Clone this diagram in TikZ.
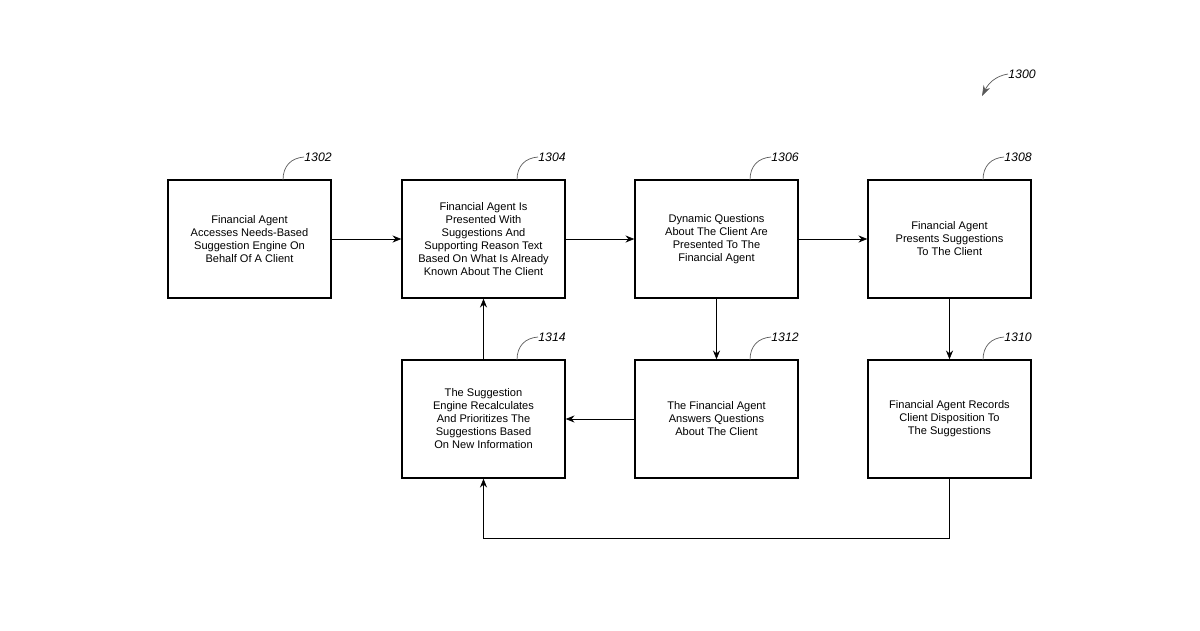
\documentclass[tikz,border=0pt]{standalone}
\usepackage{fontspec}
\setmainfont{Liberation Sans}
\usetikzlibrary{arrows, arrows.meta, positioning}

\tikzset{
  stage/.style={draw, thick, minimum width=3.26cm, minimum height=2.36cm,
    align=center, font=\fontsize{6.3}{7.4}\selectfont, inner sep=1pt},
  flow/.style={-{Stealth[length=5pt,width=4pt]}, thin},
  tag/.style={font=\fontsize{7}{8}\selectfont\itshape, anchor=west, inner sep=0pt},
  lead/.style={thin, gray!70!black}
}

\begin{document}
\begin{tikzpicture}[x=0.02cm, y=-0.02cm]
\useasboundingbox (0,0) rectangle (1200,630);

% top row
\node[stage] (s1302) at (249.5,239) {Financial Agent\\Accesses Needs-Based\\Suggestion Engine On\\Behalf Of A Client};
\node[stage] (s1304) at (483.5,239) {Financial Agent Is\\Presented With\\Suggestions And\\Supporting Reason Text\\Based On What Is Already\\Known About The Client};
\node[stage] (s1306) at (716.5,239) {Dynamic Questions\\About The Client Are\\Presented To The\\Financial Agent};
\node[stage] (s1308) at (949.5,239) {Financial Agent\\Presents Suggestions\\To The Client};
% bottom row
\node[stage] (s1314) at (483.5,419) {The Suggestion\\Engine Recalculates\\And Prioritizes The\\Suggestions Based\\On New Information};
\node[stage] (s1312) at (716.5,419) {The Financial Agent\\Answers Questions\\About The Client};
\node[stage] (s1310) at (949.5,419) {Financial Agent Records\\Client Disposition To\\The Suggestions};

% connectors
\draw[flow] (s1302) -- (s1304);
\draw[flow] (s1304) -- (s1306);
\draw[flow] (s1306) -- (s1308);
\draw[flow] (s1306) -- (s1312);
\draw[flow] (s1308) -- (s1310);
\draw[flow] (s1312) -- (s1314);
\draw[flow] (s1314) -- (s1304);
\coordinate (loopR) at (949.5,538);
\coordinate (loopL) at (483.5,538);
\draw[flow] (s1310.south) -- (loopR) -- (loopL) -- (s1314.south);

% reference numerals
\foreach \n/\x/\y in {1302/283/180, 1304/517/180, 1306/750/180, 1308/983/180,
                      1314/517/360, 1312/750/360, 1310/983/360} {
  \node[tag] (t\n) at (\x+21,\y-23) {\n};
  \draw[lead] (\x,\y) .. controls (\x,\y-14) and (\x+8,\y-22) .. (t\n.west);
}
\node[tag] (t1300) at (1008,74) {1300};
\coordinate (a1300) at (982,96);
\draw[lead, -{Stealth[length=6pt,width=4pt]}] (t1300.west) .. controls (995,76) and (988,84) .. (a1300);

\end{tikzpicture}
\end{document}
